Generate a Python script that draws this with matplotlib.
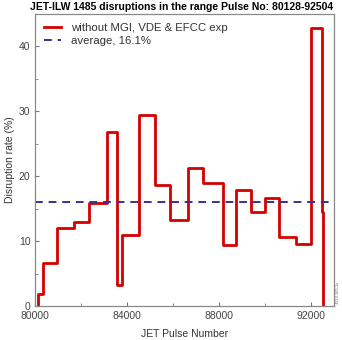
import numpy as np
import matplotlib.pyplot as plt

plt.rcParams['font.family'] = ['Liberation Sans', 'DejaVu Sans']

# bin edges (pulse numbers) and disruption rate per bin (%)
edges = [80128, 80322, 80959, 81686, 82353, 83111, 83547, 83765, 84519,
         85216, 85869, 86623, 87294, 88148, 88745, 89386, 89996, 90606,
         91329, 91970, 92449, 92504]
rate = [1.8, 6.6, 12.0, 13.0, 15.8, 26.8, 3.3, 11.0, 29.5, 18.6, 13.3,
        21.2, 18.9, 9.4, 17.9, 14.5, 16.7, 10.6, 9.5, 42.9, 14.5]
average = 16.1

fig = plt.figure(figsize=(3.42, 3.40), dpi=100)
ax = fig.add_axes([0.103, 0.1, 0.8745, 0.859])

xs = [edges[0]] + edges + [edges[-1]]
ys = [0] + rate + [rate[-1], 0]
ax.step(xs, ys, where='post', color='#d40000', lw=2.0,
        label='without MGI, VDE & EFCC exp')
ax.axhline(average, color='#3b2f99', lw=1.4, ls=(0, (4, 3)),
           label='average, 16.1%')

ax.set_xlim(80000, 93000)
ax.set_ylim(0, 45)
ax.set_xticks(np.arange(80000, 93000, 4000))
ax.set_xticks(np.arange(80000, 93000, 2000), minor=True)
ax.set_yticks(np.arange(0, 45, 10))
ax.set_yticks(np.arange(0, 45, 5), minor=True)
ax.tick_params(which='both', direction='in', color='#777777',
               labelsize=7.5, labelcolor='#444444', length=3)
ax.tick_params(which='minor', length=2)
for s in ax.spines.values():
    s.set_color('#888888')
    s.set_linewidth(0.9)

ax.set_xlabel('JET Pulse Number', fontsize=7.5, color='#333333', labelpad=6)
ax.set_ylabel('Disruption rate (%)', fontsize=7.5, color='#333333', labelpad=3)
ax.set_title('JET-ILW 1485 disruptions in the range Pulse No: 80128-92504',
             fontsize=7.5, fontweight='bold', pad=3, x=0.49)
ax.legend(loc='upper left', frameon=False, fontsize=8.2, handlelength=1.5,
          borderaxespad=0.4, labelspacing=0.25, labelcolor='#333333')

fig.text(0.988, 0.14, 'JG13.165-1c', rotation=90, fontsize=3,
         color='#666666', ha='center', va='center')

fig.savefig('out.png', dpi=100)
